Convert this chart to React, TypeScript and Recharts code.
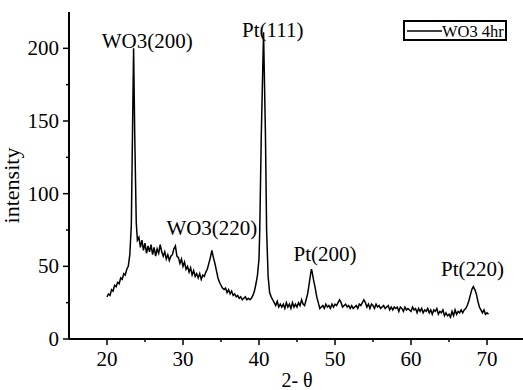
import React from 'react';
import { LineChart, Line, XAxis, YAxis, ReferenceDot, Legend } from 'recharts';

const twoTheta = [
  20.0, 20.2, 20.4, 20.6, 20.8, 21.0, 21.2, 21.4, 21.6, 21.8,
  22.0, 22.2, 22.4, 22.6, 22.8, 23.0, 23.2, 23.35, 23.5, 23.65,
  23.85, 24.0, 24.2, 24.4, 24.6, 24.8, 25.0, 25.2, 25.4, 25.6,
  25.8, 26.0, 26.2, 26.4, 26.6, 26.8, 27.0, 27.2, 27.4, 27.6,
  27.8, 28.0, 28.2, 28.4, 28.6, 28.8, 29.0, 29.2, 29.4, 29.6,
  29.8, 30.0, 30.2, 30.4, 30.6, 30.8, 31.0, 31.2, 31.4, 31.6,
  31.8, 32.0, 32.2, 32.4, 32.6, 32.8, 33.0, 33.2, 33.4, 33.6,
  33.8, 34.0, 34.2, 34.4, 34.6, 34.8, 35.0, 35.2, 35.4, 35.6,
  35.8, 36.0, 36.2, 36.4, 36.6, 36.8, 37.0, 37.2, 37.4, 37.6,
  37.8, 38.0, 38.2, 38.4, 38.6, 38.8, 39.0, 39.2, 39.4, 39.6,
  39.8, 40.0, 40.1, 40.3, 40.6, 40.85, 41.0, 41.2, 41.4, 41.6,
  41.8, 42.0, 42.2, 42.4, 42.6, 42.8, 43.0, 43.2, 43.4, 43.6,
  43.8, 44.0, 44.2, 44.4, 44.6, 44.8, 45.0, 45.2, 45.4, 45.6,
  45.8, 46.0, 46.2, 46.4, 46.6, 46.8, 46.9, 47.0, 47.2, 47.4,
  47.6, 47.8, 48.0, 48.2, 48.4, 48.6, 48.8, 49.0, 49.2, 49.4,
  49.6, 49.8, 50.0, 50.2, 50.4, 50.6, 50.8, 51.0, 51.2, 51.4,
  51.6, 51.8, 52.0, 52.2, 52.4, 52.6, 52.8, 53.0, 53.2, 53.4,
  53.6, 53.8, 54.0, 54.2, 54.4, 54.6, 54.8, 55.0, 55.2, 55.4,
  55.6, 55.8, 56.0, 56.2, 56.4, 56.6, 56.8, 57.0, 57.2, 57.4,
  57.6, 57.8, 58.0, 58.2, 58.4, 58.6, 58.8, 59.0, 59.2, 59.4,
  59.6, 59.8, 60.0, 60.2, 60.4, 60.6, 60.8, 61.0, 61.2, 61.4,
  61.6, 61.8, 62.0, 62.2, 62.4, 62.6, 62.8, 63.0, 63.2, 63.4,
  63.6, 63.8, 64.0, 64.2, 64.4, 64.6, 64.8, 65.0, 65.2, 65.4,
  65.6, 65.8, 66.0, 66.2, 66.4, 66.6, 66.8, 67.0, 67.2, 67.4,
  67.6, 67.8, 68.0, 68.2, 68.4, 68.6, 68.8, 69.0, 69.2, 69.4,
  69.6, 69.8, 70.0, 70.2,
];

const intensity = [
  29, 31, 30, 34, 33, 37, 36, 39, 38, 42,
  41, 45, 44, 48, 50, 58, 78, 140, 200, 140,
  80, 68, 70, 63, 68, 61, 66, 59, 64, 60,
  65, 58, 63, 57, 62, 59, 65, 60, 57, 60,
  55, 58, 54, 57, 58, 62, 64, 57, 56, 52,
  55, 50, 53, 48, 50, 46, 49, 44, 47, 43,
  45, 42, 45, 41, 44, 43, 46, 48, 52, 56,
  61, 56, 52, 47, 42, 39, 37, 35, 34, 35,
  32, 34, 31, 33, 30, 31, 29, 30, 28, 29,
  27, 28, 29, 27, 28, 27, 28, 30, 33, 38,
  44, 55, 75, 140, 211, 140, 75, 43, 32, 29,
  27, 25, 23, 26, 22, 24, 22, 24, 21, 25,
  22, 24, 21, 25, 22, 24, 22, 25, 23, 27,
  24, 23, 27, 31, 38, 45, 48, 46, 40, 35,
  29, 25, 21, 22, 23, 21, 24, 22, 23, 21,
  24, 22, 24, 23, 25, 27, 25, 22, 23, 24,
  22, 23, 21, 23, 21, 22, 23, 21, 24, 23,
  25, 27, 25, 22, 24, 21, 24, 23, 21, 24,
  22, 23, 21, 22, 23, 21, 22, 23, 20, 22,
  20, 22, 21, 22, 19, 22, 21, 19, 22, 20,
  21, 20, 19, 22, 20, 21, 18, 21, 19, 21,
  18, 20, 19, 21, 18, 20, 17, 20, 19, 21,
  17, 19, 18, 20, 16, 18, 16, 17, 15, 19,
  16, 20, 17, 19, 18, 20, 18, 20, 21, 23,
  26, 30, 34, 36, 34, 31, 26, 22, 20, 18,
  20, 17, 18, 17,
];

const xTicks = [20, 25, 30, 35, 40, 45, 50, 55, 60, 65, 70];
const yTicks = [0, 25, 50, 75, 100, 125, 150, 175, 200];

const peakNames = ['WO3(200)', 'Pt(111)', 'WO3(220)', 'Pt(200)', 'Pt(220)'];
const peakLabelX = [25.3, 41.8, 33.8, 48.7, 68.1];
const peakLabelY = [200, 207.5, 71.7, 54, 43.6];

const seriesName = 'WO3 4hr';

const data = twoTheta.map((t, i) => ({ t, v: intensity[i] }));

const FONT = 'Liberation Serif, Tinos, DejaVu Serif, serif';
const fs = (size: number) => ({ fontFamily: FONT, fontSize: size });

const XTick = (props: any) => {
  const { x, y, payload } = props;
  const v = payload.value;
  const major = v % 10 === 0;
  const axisY = y - 14;
  return (
    <g>
      <line x1={x} x2={x} y1={axisY} y2={axisY + (major ? 6 : 3)} stroke="#000" strokeWidth={1.5} />
      {major && (
        <text x={x} y={axisY + 27} textAnchor="middle" style={fs(21)} fill="#000">
          {v}
        </text>
      )}
    </g>
  );
};

const YTick = (props: any) => {
  const { x, y, payload } = props;
  const v = payload.value;
  const major = v % 50 === 0;
  const axisX = x + 10;
  return (
    <g>
      <line x1={axisX} x2={axisX - (major ? 6 : 3)} y1={y} y2={y} stroke="#000" strokeWidth={1.5} />
      {major && (
        <text x={axisX - 10} y={y + 7} textAnchor="end" style={fs(21)} fill="#000">
          {v}
        </text>
      )}
    </g>
  );
};

const PeakLabel = (text: string) => (props: any) => {
  const vb = props.viewBox || {};
  const cx = (vb.x ?? 0) + (vb.width ?? 0) / 2;
  const cy = (vb.y ?? 0) + (vb.height ?? 0) / 2;
  return (
    <text x={cx} y={cy} textAnchor="middle" style={fs(21)} fill="#000">
      {text}
    </text>
  );
};

const LegendBox = () => (
  <svg width={106} height={22} style={{ display: 'block' }}>
    <rect x={1} y={1} width={102} height={19} fill="#fff" stroke="#000" strokeWidth={2} />
    <line x1={4} x2={39} y1={11} y2={11} stroke="#000" strokeWidth={1.5} />
    <text x={39} y={17} style={fs(16.5)} fill="#000">{seriesName}</text>
  </svg>
);

export default function App() {
  return (
    <div style={{ position: 'absolute', left: 0, top: 0, width: 523, height: 390, overflow: 'hidden', background: '#fff' }}>
      <LineChart width={527} height={390} data={data} margin={{ top: 12, right: 2, bottom: 0, left: 0 }}>
        <XAxis
          dataKey="t"
          type="number"
          domain={[15, 75]}
          ticks={xTicks}
          tick={<XTick />}
          tickLine={false}
          tickSize={6}
          tickMargin={8}
          height={51}
          axisLine={{ stroke: '#000', strokeWidth: 2 }}
          interval={0}
          label={{
            content: (p: any) => {
              const vb = p.viewBox;
              return (
                <text x={vb.x + vb.width / 2} y={vb.y + vb.height - 3} textAnchor="middle" style={fs(20)} fill="#000">
                  2- θ
                </text>
              );
            },
          }}
        />
        <XAxis
          xAxisId="top"
          orientation="top"
          dataKey="t"
          type="number"
          domain={[15, 75]}
          height={0}
          tick={false}
          tickLine={false}
          axisLine={{ stroke: '#000', strokeWidth: 2 }}
        />
        <YAxis
          type="number"
          domain={[0, 225]}
          ticks={yTicks}
          tick={<YTick />}
          tickLine={false}
          tickSize={6}
          tickMargin={4}
          width={69}
          interval={0}
          axisLine={{ stroke: '#000', strokeWidth: 2 }}
          label={{
            content: (p: any) => {
              const vb = p.viewBox;
              const lx = vb.x + 19;
              const ly = vb.y + vb.height / 2 + 10;
              return (
                <text x={lx} y={ly} transform={`rotate(-90, ${lx}, ${ly})`} textAnchor="middle" style={fs(22)} fill="#000">
                  intensity
                </text>
              );
            },
          }}
        />
        <YAxis
          yAxisId="right"
          orientation="right"
          domain={[0, 225]}
          width={0}
          tick={false}
          tickLine={false}
          axisLine={{ stroke: '#000', strokeWidth: 2 }}
        />
        <Legend
          layout="horizontal"
          verticalAlign="middle"
          align="center"
          content={() => <LegendBox />}
          wrapperStyle={{ position: 'absolute', left: 403, top: 20, width: 106, height: 22 }}
        />
        <Line
          name={seriesName}
          type="linear"
          dataKey="v"
          stroke="#000"
          strokeWidth={1.5}
          dot={false}
          isAnimationActive={false}
        />
        {peakNames.map((n, i) => (
          <ReferenceDot
            key={n}
            x={peakLabelX[i]}
            y={peakLabelY[i]}
            r={1}
            fill="none"
            stroke="none"
            ifOverflow="visible"
            label={PeakLabel(n)}
          />
        ))}
      </LineChart>
    </div>
  );
}
